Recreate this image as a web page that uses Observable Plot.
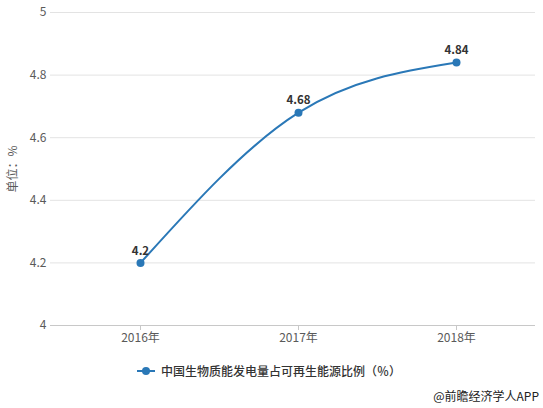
<!DOCTYPE html>
<html>
<head>
<meta charset="utf-8">
<script src="https://cdn.jsdelivr.net/npm/d3@7"></script>
<script src="https://cdn.jsdelivr.net/npm/@observablehq/plot@0.6"></script>
<style>
  html, body { margin: 0; padding: 0; background: #fff; }
  body { width: 543px; height: 408px; position: relative; overflow: hidden;
         font-family: "Noto Sans CJK SC", "Noto Sans", sans-serif; }
  #legend { position: absolute; left: 0; top: 362px; width: 543px; height: 18px;
            font-size: 12px; color: #333; font-weight: 500; }
  #legend .key { position: absolute; left: 137px; top: 4px; width: 18px; height: 10px; }
  #legend .txt { position: absolute; left: 161px; top: 0; line-height: 18px; white-space: nowrap; }
  #source { position: absolute; right: 4px; top: 387px; font-size: 12px; color: #222; line-height: 18px; }
</style>
</head>
<body>
<div id="chart"></div>
<div id="legend">
  <svg class="key" width="18" height="10"><line x1="0" y1="5" x2="18" y2="5" stroke="#2a78b7" stroke-width="2"/><circle cx="9" cy="5" r="4" fill="#2a78b7"/></svg>
  <span class="txt">中国生物质能发电量占可再生能源比例（％）</span>
</div>
<div id="source">@前瞻经济学人APP</div>
<script>
// Share of biomass power in China's renewable generation, 2016–2018 (%)
const years = ["2016年", "2017年", "2018年"];
const shares = [4.2, 4.68, 4.84];
const yTicks = [4, 4.2, 4.4, 4.6, 4.8, 5];
const yLabel = "单位：%";

const data = years.map((year, i) => ({year, share: shares[i]}));
const blue = "#2a78b7";

const chart = Plot.plot({
  width: 543,
  height: 350,
  marginLeft: 60,
  marginRight: 8,
  marginTop: 12,
  marginBottom: 25,
  style: {fontFamily: "'Noto Sans CJK SC', 'Noto Sans', sans-serif", fontSize: "12px", color: "#5a5a5a", background: "#fff"},
  x: {type: "point", domain: years, padding: 0.5},
  y: {domain: [4, 5]},
  marks: [
    Plot.ruleY(yTicks.slice(1), {stroke: "#e3e3e3", insetLeft: -10, insetRight: 0}),
    Plot.ruleY([4], {stroke: "#c8c8c8", insetLeft: -10}),
    Plot.axisY({ticks: yTicks, tickSize: 0, tickPadding: 14, tickFormat: d => String(+d.toFixed(1)),
                label: yLabel, labelAnchor: "center", labelArrow: "none", labelOffset: 52}),
    Plot.axisX({tickSize: 5, tickPadding: 3, stroke: "#c8c8c8", label: null}),
    Plot.line(data, {x: "year", y: "share", stroke: blue, strokeWidth: 2, curve: "natural"}),
    Plot.dot(data, {x: "year", y: "share", r: 4, fill: blue}),
    Plot.text(data, {x: "year", y: "share", text: d => String(d.share), dy: -12,
                     fontWeight: "bold", fontSize: 11.5, fill: "#333"})
  ]
});
document.getElementById("chart").appendChild(chart);
</script>
</body>
</html>
